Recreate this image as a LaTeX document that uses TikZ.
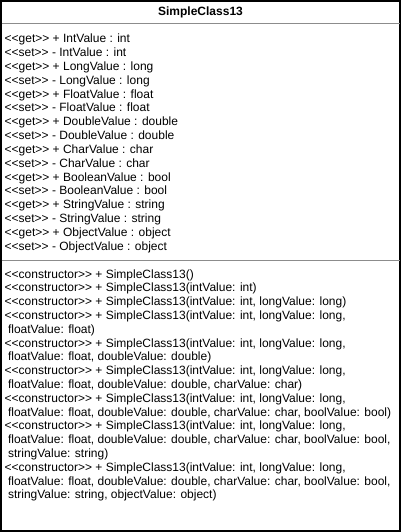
\documentclass[tikz,border=0pt]{standalone}
\usepackage{fontspec}
\newfontfamily\umlfont{Liberation Sans}
\newcommand\oLL{<\kern0pt<}
\newcommand\oGG{>\kern0pt>}
\newcommand\contsp{\hspace*{0.278em}}
\begin{document}
\begin{tikzpicture}[x=1pt,y=-1pt,
  txt/.style={anchor=base west,inner sep=0pt,font=\umlfont\fontsize{12}{14}\selectfont,text=black},
  titletxt/.style={inner sep=0pt,font=\umlfont\bfseries\fontsize{12}{14}\selectfont,text=black},
  classbox/.style={draw=black,line width=1.5pt,minimum width=399pt,minimum height=530pt,anchor=north west,inner sep=0pt,outer sep=0pt},
  sepline/.style={draw=black!45,line width=1pt}]
\useasboundingbox (0,0) rectangle (401,532);
\node[classbox] (cls) at (1,1) {};
\coordinate (s1w) at (1.5,24);
\coordinate (s1e) at (399.5,24);
\coordinate (s2w) at (1.5,260);
\coordinate (s2e) at (399.5,260);
\draw[sepline] (s1w) -- (s1e);
\draw[sepline] (s2w) -- (s2e);
\node[titletxt] (title) at (200.5,12.5) {SimpleClass13};
\foreach \t [count=\i] in {
  {\oLL get\oGG\ + IntValue : int},
  {\oLL set\oGG\ - IntValue : int},
  {\oLL get\oGG\ + LongValue : long},
  {\oLL set\oGG\ - LongValue : long},
  {\oLL get\oGG\ + FloatValue : float},
  {\oLL set\oGG\ - FloatValue : float},
  {\oLL get\oGG\ + DoubleValue : double},
  {\oLL set\oGG\ - DoubleValue : double},
  {\oLL get\oGG\ + CharValue : char},
  {\oLL set\oGG\ - CharValue : char},
  {\oLL get\oGG\ + BooleanValue : bool},
  {\oLL set\oGG\ - BooleanValue : bool},
  {\oLL get\oGG\ + StringValue : string},
  {\oLL set\oGG\ - StringValue : string},
  {\oLL get\oGG\ + ObjectValue : object},
  {\oLL set\oGG\ - ObjectValue : object}}
  \node[txt] (a\i) at (4.5,29.2+\i*13.8) {\t};
\foreach \t [count=\i] in {
  {\oLL constructor\oGG\ + SimpleClass13()},
  {\oLL constructor\oGG\ + SimpleClass13(intValue: int)},
  {\oLL constructor\oGG\ + SimpleClass13(intValue: int, longValue: long)},
  {\oLL constructor\oGG\ + SimpleClass13(intValue: int, longValue: long,},
  {\contsp floatValue: float)},
  {\oLL constructor\oGG\ + SimpleClass13(intValue: int, longValue: long,},
  {\contsp floatValue: float, doubleValue: double)},
  {\oLL constructor\oGG\ + SimpleClass13(intValue: int, longValue: long,},
  {\contsp floatValue: float, doubleValue: double, charValue: char)},
  {\oLL constructor\oGG\ + SimpleClass13(intValue: int, longValue: long,},
  {\contsp floatValue: float, doubleValue: double, charValue: char, boolValue: bool)},
  {\oLL constructor\oGG\ + SimpleClass13(intValue: int, longValue: long,},
  {\contsp floatValue: float, doubleValue: double, charValue: char, boolValue: bool,},
  {\contsp stringValue: string)},
  {\oLL constructor\oGG\ + SimpleClass13(intValue: int, longValue: long,},
  {\contsp floatValue: float, doubleValue: double, charValue: char, boolValue: bool,},
  {\contsp stringValue: string, objectValue: object)}}
  \node[txt] (c\i) at (4.5,264.2+\i*13.8) {\t};
\end{tikzpicture}
\end{document}
